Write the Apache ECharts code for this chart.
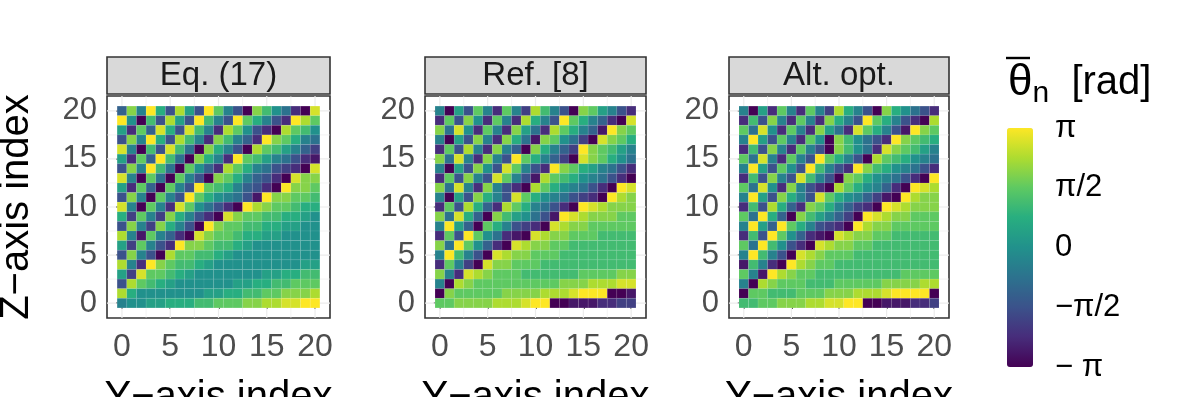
<!DOCTYPE html>
<html>
<head>
<meta charset="utf-8">
<title>Phase maps</title>
<script src="https://cdn.jsdelivr.net/npm/echarts@6.0.0/dist/echarts.min.js"></script>
<style>
html, body { margin: 0; padding: 0; background: #fff; }
#chart { width: 1196px; height: 397px; }
</style>
</head>
<body>
<div id="chart"></div>
<script>
// element indices along both array axes
var yIndex = [0, 1, 2, 3, 4, 5, 6, 7, 8, 9, 10, 11, 12, 13, 14, 15, 16, 17, 18, 19, 20];
var zIndex = [0, 1, 2, 3, 4, 5, 6, 7, 8, 9, 10, 11, 12, 13, 14, 15, 16, 17, 18, 19, 20];
var axisTicks = [0, 5, 10, 15, 20];
var gridBreaks = [0, 2.5, 5, 7.5, 10, 12.5, 15, 17.5, 20];
var panelTitles = ["Eq. (17)", "Ref. [8]", "Alt. opt."];
var legendLabels = ["\u2212 \u03c0", "\u2212\u03c0/2", "0", "\u03c0/2", "\u03c0"];

// phase: one string per row, z = 20 first, down to z = 0,
// one character per y index; 0..g is -pi..+pi in steps of pi/8
var phaseEq17 = [
  "5d7ga4e94gc740db8620f",
  "g80b4e94gb74gca742gec",
  "92c5fa4fb72ec8420ecb8",
  "4d7ga4eb72db752gdca76",
  "f70b4fb60da740ecb9753",
  "92c5gb60da72gcb976421",
  "4d7gb60c852eca764320f",
  "f70c60c740dca75420fdd",
  "92c50c74gcba75420gddc",
  "4d70c74gca87641gddccb",
  "f70c72fc86420gedccbaa",
  "a3c73da7420fdccbbaa98",
  "4d73da740gdccbbaa9988",
  "e71c7520fdccbaa998888",
  "93c742gddcbba98888888",
  "4d740eccbba9888888888",
  "e72gdcbba988888888899",
  "93fccba9888888899aabb",
  "4ecba988888899aabbccc",
  "ea888888899aabbccddde",
  "78899aaabbcccddeeffgg"
];
var phaseRef8 = [
  "7094c72c73eb740dc9742",
  "2c4d82c72ea74gca7520f",
  "d6f82c72d962eca751gdc",
  "7094d72da61dc8630fdca",
  "2c4e72d750da753gdcb97",
  "d6f72d74gca7530fdca86",
  "7094d84fc742gdca97642",
  "2c4d74fc741ecba876420",
  "d6f72d7420eca876420gf",
  "7094da74fca8764320ged",
  "2c4ea52eca76420gfeddd",
  "d6fa50db98641gfedddcc",
  "7g950ca74320feddccccc",
  "2c4gc86210feddcccbbbb",
  "d6gc8520feddccbbbbbbb",
  "7gb740feddcccbbbbbbbb",
  "2c730fddcccbbbbbbbbbb",
  "d72fedcccbbbbbbccccdd",
  "70edcccccccccdddeeeff",
  "0dcccccddddeeefggg001",
  "ccddddeeefgg001112233"
];
var phaseAlt = [
  "7092c72c73ea740da8642",
  "2b4d72c72da74gca7420e",
  "c6f82c72d962fca741gdc",
  "7g94c72c80db8642gdcba",
  "2b4d72c740db862fdcb97",
  "c6f72c74gca740ecba876",
  "7g94c84gb742gdba87642",
  "2b4d74fb740dca876420g",
  "c6f82d7420eca87520gfe",
  "7g94da74fca875310gedd",
  "2b4ea52dca75320gfeddd",
  "c6ga50db97530gfeddccc",
  "7g95gca74320geddccccc",
  "2b4gc85210feddccbbbbb",
  "c6gb8420feddccbbbbbbb",
  "7gb740fedcccbbbbbbbbb",
  "1b720gedccbbbbbbbbbbb",
  "c71gedccbbbbbbbbbcccc",
  "70edcccbbbcccccddddee",
  "0ccbbbcccdddeeefgggg0",
  "bbccdddeeffgg00111223"
];

var viridis = ["#440154", "#472d7b", "#3b528b", "#2c728e", "#21918c",
               "#28ae80", "#5ec962", "#addc30", "#fde725"];
var regularFont = "'Liberation Sans', Arial, sans-serif";

// turn the row strings into [y, z, phase] triples
function toCells(rows) {
  var cells = [];
  rows.forEach(function (row, r) {
    var z = zIndex[zIndex.length - 1 - r];
    yIndex.forEach(function (y) {
      var level = parseInt(row.charAt(y), 17);
      cells.push([y, z, -Math.PI + level * Math.PI / 8]);
    });
  });
  return cells;
}

function renderTile(params, api) {
  var a = api.coord([api.value(0) - 0.5, api.value(1) + 0.5]);
  var b = api.coord([api.value(0) + 0.5, api.value(1) - 0.5]);
  return {
    type: "rect",
    shape: { x: a[0], y: a[1], width: b[0] - a[0], height: b[1] - a[1] },
    style: { fill: api.visual("color"), stroke: "rgba(255,255,255,0.12)", lineWidth: 0.6 }
  };
}

function renderGridLine(params, api) {
  var v = api.value(0);
  var cs = params.coordSys;
  var px = api.coord([v, 0])[0];
  var py = api.coord([0, v])[1];
  var w = v % 5 === 0 ? 1.2 : 0.6;
  return {
    type: "group",
    children: [
      { type: "line", shape: { x1: px, y1: cs.y, x2: px, y2: cs.y + cs.height },
        style: { stroke: "#ebebeb", lineWidth: w } },
      { type: "line", shape: { x1: cs.x, y1: py, x2: cs.x + cs.width, y2: py },
        style: { stroke: "#ebebeb", lineWidth: w } }
    ]
  };
}

var panelData = [phaseEq17, phaseRef8, phaseAlt];
var panelBox = [
  { left: 107, width: 223 },
  { left: 425, width: 221 },
  { left: 729, width: 220 }
];
var plotTop = 96, plotHeight = 222;

var grids = [], xAxes = [], yAxes = [], series = [], graphics = [], tileSeries = [];

panelData.forEach(function (rows, i) {
  grids.push({
    left: panelBox[i].left, top: plotTop, width: panelBox[i].width, height: plotHeight,
    show: true, backgroundColor: "#fff", borderColor: "#333", borderWidth: 1.6,
    containLabel: false, outerBoundsMode: "none"
  });
  xAxes.push({
    gridIndex: i, type: "value", min: -1.55, max: 21.55,
    axisLine: { show: false },
    axisTick: { show: true, customValues: axisTicks, length: 6, lineStyle: { color: "#333", width: 1.6 } },
    axisLabel: { customValues: axisTicks, color: "#4d4d4d", fontSize: 32, fontFamily: regularFont, margin: 13 },
    splitLine: { show: false },
    name: "Y\u2212axis index", nameLocation: "middle", nameGap: 60,
    nameTextStyle: { fontSize: 40, color: "#000", fontFamily: regularFont }
  });
  yAxes.push({
    gridIndex: i, type: "value", min: -1.55, max: 21.55,
    axisLine: { show: false },
    axisTick: { show: true, customValues: axisTicks, length: 6, lineStyle: { color: "#333", width: 1.6 } },
    axisLabel: { customValues: axisTicks, color: "#4d4d4d", fontSize: 31, fontFamily: regularFont, margin: 10 },
    splitLine: { show: false },
    name: i === 0 ? "Z\u2212axis index" : "", nameLocation: "middle", nameGap: 70,
    nameTextStyle: { fontSize: 40, color: "#000", fontFamily: regularFont }
  });
  series.push({
    type: "custom", xAxisIndex: i, yAxisIndex: i, silent: true,
    renderItem: renderGridLine,
    data: gridBreaks.map(function (b) { return [b, b]; })
  });
  tileSeries.push(series.length);
  series.push({
    type: "custom", xAxisIndex: i, yAxisIndex: i,
    renderItem: renderTile,
    dimensions: ["y", "z", "phase"],
    encode: { x: 0, y: 1 },
    data: toCells(rows)
  });
  // facet strip above each panel
  graphics.push({
    type: "rect", x: panelBox[i].left, y: 57,
    shape: { x: 0, y: 0, width: panelBox[i].width, height: 37 },
    style: { fill: "#d9d9d9", stroke: "#333", lineWidth: 1.6 }
  });
  graphics.push({
    type: "text", x: panelBox[i].left + panelBox[i].width / 2, y: 76,
    style: { text: panelTitles[i], fontSize: 33, fontFamily: regularFont, fill: "#1a1a1a",
             align: "center", verticalAlign: "middle" }
  });
});

// bar over the theta in the legend title
graphics.push({
  type: "line", shape: { x1: 1006, y1: 58, x2: 1030, y2: 58 },
  style: { stroke: "#000", lineWidth: 2.4 }
});

// colour bar axis (labels only)
grids.push({ left: 1007, top: 128, width: 26, height: 239, show: false, outerBoundsMode: "none" });
xAxes.push({ gridIndex: 3, type: "value", min: 0, max: 1, show: false });
yAxes.push({
  gridIndex: 3, type: "value", min: -Math.PI, max: Math.PI, interval: Math.PI / 2,
  position: "right",
  axisLine: { show: false },
  axisTick: { show: true, inside: true, length: 5, lineStyle: { color: "#fff", width: 1.4 } },
  axisLabel: {
    color: "#000", fontSize: 31, fontFamily: regularFont, margin: 22,
    formatter: function (v) { return legendLabels[Math.round(v / (Math.PI / 2)) + 2]; }
  },
  splitLine: { show: false }
});
yAxes.push({
  gridIndex: 3, type: "value", min: -Math.PI, max: Math.PI, interval: Math.PI / 2,
  position: "left",
  axisLine: { show: false },
  axisTick: { show: true, inside: true, length: 5, lineStyle: { color: "#fff", width: 1.4 } },
  axisLabel: { show: false },
  splitLine: { show: false }
});
series.push({
  type: "custom", xAxisIndex: 3, yAxisIndex: 3, data: [],
  renderItem: function () { return null; }
});

var option = {
  animation: false,
  backgroundColor: "#fff",
  title: {
    left: 1003, top: 52,
    text: "{t|\u03b8}{n|n}  [rad]",
    textStyle: {
      fontSize: 40, fontWeight: "normal", color: "#000", fontFamily: regularFont,
      rich: {
        t: { fontSize: 44, fontFamily: regularFont, color: "#000", lineHeight: 52 },
        n: { fontSize: 30, fontFamily: regularFont, color: "#000", lineHeight: 40, verticalAlign: "bottom" }
      }
    }
  },
  grid: grids,
  xAxis: xAxes,
  yAxis: yAxes,
  visualMap: {
    type: "continuous", min: -Math.PI, max: Math.PI, dimension: 2,
    seriesIndex: tileSeries, calculable: false, padding: 0,
    left: 1007, top: 128, itemWidth: 26, itemHeight: 239,
    inRange: { color: viridis }
  },
  graphic: graphics,
  series: series
};

var chart = echarts.init(document.getElementById("chart"));
chart.setOption(option);
window.addEventListener("resize", function () { chart.resize(); });
</script>
</body>
</html>
